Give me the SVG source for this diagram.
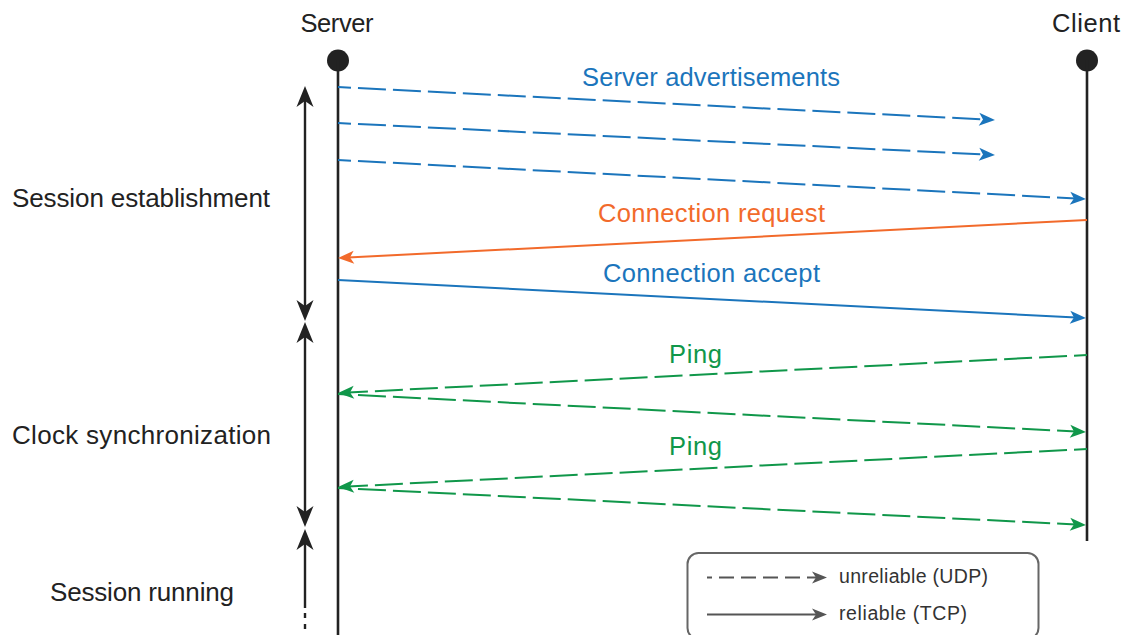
<svg xmlns="http://www.w3.org/2000/svg" width="1128" height="635" viewBox="0 0 1128 635">
<style>
text{font-family:"Liberation Sans",Arial,sans-serif;}
.hdr{font-size:25.5px;fill:#222;text-anchor:middle;}
.side{font-size:26px;fill:#222;text-anchor:middle;}
.lbl{font-size:25.5px;text-anchor:middle;}
.leg{font-size:19.5px;fill:#333;}
.life{stroke:#222;stroke-width:2.6;fill:none;}
.axis{stroke:#222;stroke-width:2.4;fill:none;}
.dash{stroke-dasharray:28 7;stroke-dashoffset:15;}
.blue{stroke:#1b75bc;stroke-width:2;fill:none;}
.orange{stroke:#f26a2b;stroke-width:2;fill:none;}
.green{stroke:#10974a;stroke-width:2;fill:none;}
</style>
<defs>
<marker id="ab" viewBox="-17 -8 18 16" refX="-10" refY="0" markerWidth="18" markerHeight="16" markerUnits="userSpaceOnUse" orient="auto"><path d="M0,0 L-16,-6.5 L-12,0 L-16,6.5 Z" fill="#1b75bc"/></marker>
<marker id="ao" viewBox="-17 -8 18 16" refX="-10" refY="0" markerWidth="18" markerHeight="16" markerUnits="userSpaceOnUse" orient="auto"><path d="M0,0 L-16,-6.5 L-12,0 L-16,6.5 Z" fill="#f26a2b"/></marker>
<marker id="ag" viewBox="-17 -8 18 16" refX="-10" refY="0" markerWidth="18" markerHeight="16" markerUnits="userSpaceOnUse" orient="auto"><path d="M0,0 L-16,-6.5 L-12,0 L-16,6.5 Z" fill="#10974a"/></marker>
<marker id="agr" viewBox="-17 -8 18 16" refX="-10" refY="0" markerWidth="18" markerHeight="16" markerUnits="userSpaceOnUse" orient="auto"><path d="M0,0 L-15,-6 L-11,0 L-15,6 Z" fill="#555"/></marker>
<marker id="ak" viewBox="-22 -10 23 20" refX="-14" refY="0" markerWidth="23" markerHeight="20" markerUnits="userSpaceOnUse" orient="auto-start-reverse"><path d="M0,0 L-21,-8.5 L-15,0 L-21,8.5 Z" fill="#222"/></marker>
</defs>

<g id="server">
<text class="hdr" x="337" y="32" textLength="73">Server</text>
<circle cx="338" cy="60.5" r="11" fill="#222"/>
<line class="life" x1="338" y1="60" x2="338" y2="635"/>
</g>
<g id="client">
<text class="hdr" x="1086" y="32" textLength="68">Client</text>
<circle cx="1087" cy="60.5" r="11" fill="#222"/>
<line class="life" x1="1087" y1="60" x2="1087" y2="541"/>
</g>

<g id="phases">
<text class="side" x="141" y="207" textLength="258">Session establishment</text>
<text class="side" x="141.5" y="444" textLength="259">Clock synchronization</text>
<text class="side" x="142" y="601" textLength="184">Session running</text>
<line class="axis" x1="305" y1="100" x2="305" y2="307" marker-start="url(#ak)" marker-end="url(#ak)"/>
<line class="axis" x1="305" y1="336" x2="305" y2="513" marker-start="url(#ak)" marker-end="url(#ak)"/>
<line class="axis" x1="305" y1="543" x2="305" y2="608" marker-start="url(#ak)"/>
<line class="axis" x1="305" y1="613" x2="305" y2="635" stroke-dasharray="5 6"/>
</g>

<g id="connectors">
<line class="blue dash" x1="338" y1="87" x2="985" y2="119.5" marker-end="url(#ab)"/>
<line class="blue dash" x1="338" y1="123" x2="985" y2="154.5" marker-end="url(#ab)"/>
<line class="blue dash" x1="338" y1="160" x2="1076" y2="198.5" marker-end="url(#ab)"/>
<line class="orange" x1="1087" y1="220" x2="348" y2="257.5" marker-end="url(#ao)"/>
<line class="blue" x1="338" y1="280" x2="1076" y2="317.5" marker-end="url(#ab)"/>
<line class="green dash" x1="1087" y1="355" x2="348" y2="392.5" marker-end="url(#ag)"/>
<line class="green dash" x1="338" y1="394" x2="1076" y2="431.5" marker-end="url(#ag)"/>
<line class="green dash" x1="1087" y1="449" x2="348" y2="486.5" marker-end="url(#ag)"/>
<line class="green dash" x1="338" y1="488" x2="1076" y2="524.5" marker-end="url(#ag)"/>
</g>

<g id="labels">
<text class="lbl" x="711" y="86" fill="#1b75bc" textLength="258">Server advertisements</text>
<text class="lbl" x="711.5" y="222" fill="#f26a2b" textLength="227">Connection request</text>
<text class="lbl" x="711.5" y="282" fill="#1b75bc" textLength="217">Connection accept</text>
<text class="lbl" x="695.5" y="363" fill="#10974a" textLength="53">Ping</text>
<text class="lbl" x="695.5" y="455" fill="#10974a" textLength="53">Ping</text>
</g>

<g id="legend">
<rect x="687.5" y="553" width="351" height="86" rx="11" fill="none" stroke="#666" stroke-width="2"/>
<line x1="707" y1="577.5" x2="817" y2="577.5" stroke="#555" stroke-width="2" stroke-dasharray="15 7" stroke-dashoffset="10" marker-end="url(#agr)"/>
<text class="leg" x="839" y="583" textLength="149">unreliable (UDP)</text>
<line x1="707" y1="614.5" x2="817" y2="614.5" stroke="#555" stroke-width="2" marker-end="url(#agr)"/>
<text class="leg" x="839" y="620" textLength="128">reliable (TCP)</text>
</g>
</svg>
